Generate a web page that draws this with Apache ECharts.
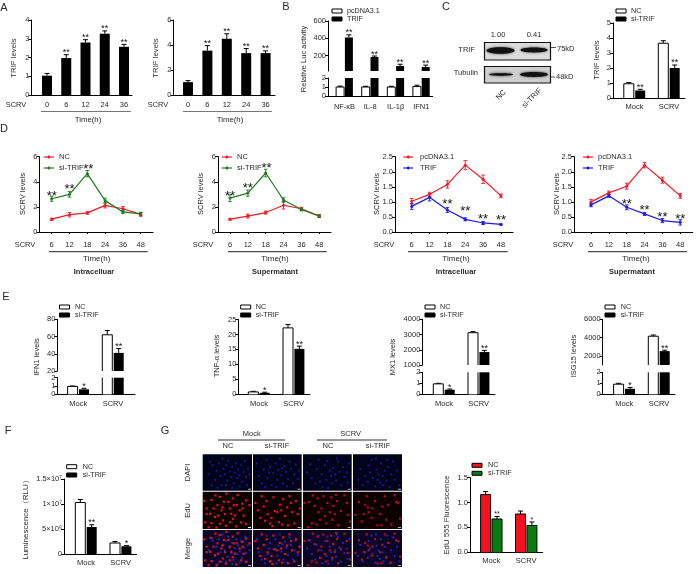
<!DOCTYPE html>
<html><head><meta charset="utf-8">
<style>html,body{margin:0;padding:0;background:#fff}#c{width:696px;height:574px}</style>
<script src="https://cdn.jsdelivr.net/npm/echarts@6/dist/echarts.min.js"></script>
</head><body><div id="c"></div>
<script>
// ---- data ----
const timesA = ['0','6','12','24','36'];
const timesD = ['6','12','18','24','36','48'];
const groupsMS = ['Mock','SCRV'];
const genesB = ['NF-κB','IL-8','IL-1β','IFN1'];

const a1Values = [1.03,1.97,2.8,3.27,2.57];
const a1Tops   = [1.15,2.15,2.95,3.42,2.7];
const a1Stars  = ['','**','**','**','**'];
const a2Values = [1.03,3.55,4.5,3.35,3.35];
const a2Tops   = [1.15,3.95,4.9,3.72,3.53];
const a2Stars  = ['','**','**','**','**'];

const bCtrl = [1,1,1,1.05];
const bCtrlTop = [1.1,1.08,1.08,1.2];
const bTrif = [410,184,80,68];
const bTrifTop = [440,195,100,90];
const bStars = ['**','**','**','**'];

const cNC = [0.95,3.65];
const cNCTop = [1.03,3.82];
const cSi = [0.5,2.0];
const cSiTop = [0.58,2.2];
const cStars = ['**','**'];
const blotRatios = ['1.00','0.41'];

const d1NC = [1.02,1.38,1.52,2.12,1.85,1.4];
const d1NCErr = [0.08,0.18,0.1,0.2,0.18,0.15];
const d1Si = [2.65,3.0,4.65,2.5,1.6,1.45];
const d1SiErr = [0.2,0.22,0.25,0.2,0.12,0.12];
const d1StarPos = [[0,3.0],[1,3.58],[2.05,5.18]];
const d2NC = [1.02,1.27,1.55,2.13,1.85,1.28];
const d2NCErr = [0.07,0.15,0.12,0.3,0.12,0.12];
const d2Si = [2.7,3.1,4.7,2.55,1.8,1.25];
const d2SiErr = [0.28,0.25,0.3,0.18,0.12,0.1];
const d2StarPos = [[0,3.07],[1,3.65],[2.05,5.3]];
const d3Pc = [1.02,1.25,1.58,2.22,1.75,1.2];
const d3PcErr = [0.09,0.07,0.12,0.15,0.14,0.06];
const d3Trif = [0.85,1.15,0.73,0.42,0.3,0.25];
const d3TrifErr = [0.1,0.12,0.08,0.05,0.05,0.02];
const d3StarPos = [[2,1.0],[3,0.77],[4,0.5],[5,0.47]];
const d4Pc = [1.0,1.3,1.52,2.22,1.72,1.2];
const d4PcErr = [0.08,0.06,0.1,0.09,0.1,0.08];
const d4Trif = [0.9,1.2,0.82,0.6,0.38,0.32];
const d4TrifErr = [0.06,0.05,0.08,0.05,0.07,0.09];
const d4StarPos = [[2,1.0],[3,0.8],[4,0.57],[5,0.5]];

const e1NC = [0.95,62];  const e1NCTop = [1.0,67];
const e1Si = [0.6,41];   const e1SiTop = [0.72,46];
const e1Stars = ['*','**'];
const e2NC = [0.8,22.2]; const e2NCTop = [1.0,23.3];
const e2Si = [0.5,15.2]; const e2SiTop = [0.7,16.1];
const e2Stars = ['*','**'];
const e3NC = [0.95,3120]; const e3NCTop = [1.0,3190];
const e3Si = [0.42,1850]; const e3SiTop = [0.48,1960];
const e3Stars = ['*','**'];
const e4NC = [0.92,4150]; const e4NCTop = [1.0,4280];
const e4Si = [0.5,2520];  const e4SiTop = [0.62,2620];
const e4Stars = ['*','**'];

const fNC = [1.03e7,2.2e6]; const fNCTop = [1.09e7,2.5e6];
const fSi = [5.4e6,1.55e6]; const fSiTop = [5.85e6,1.7e6];
const fStars = ['**','*'];
const fTickValues = [0,5e6,1e7,1.5e7];
const fTickLabels = ['0','5×10⁶','1×10⁷','1.5×10⁷'];

const gNC = [1.16,0.77]; const gNCTop = [1.22,0.83];
const gSi = [0.67,0.54]; const gSiTop = [0.72,0.61];
const gStars = ['**','*'];

const dapiMockNC = [[12,55],[20,30],[25,70],[28,45],[33,25],[36,60],[38,85],[42,40],[45,55],[48,30],[50,72],[52,18],[55,47],[58,62],[60,35],[63,80],[65,50],[68,25],[70,65],[72,42],[75,58],[78,30],[80,75],[83,48],[86,18],[88,62],[92,40],[95,55],[18,85],[30,92],[47,85],[60,92],[75,88],[15,20],[40,12],[90,85]];
const dapiMockSi = [[8,25],[12,60],[18,80],[22,42],[28,15],[30,65],[35,35],[38,85],[42,52],[46,25],[50,70],[52,42],[55,12],[58,58],[62,80],[65,32],[68,48],[72,68],[75,20],[78,40],[82,80],[85,55],[88,28],[92,68],[95,45],[25,90],[48,90],[70,88],[33,50],[60,38]];
const dapiScrvNC = [[8,50],[15,28],[18,65],[25,80],[28,40],[32,15],[38,55],[40,90],[45,30],[48,70],[52,92],[55,45],[58,60],[60,80],[62,38],[66,55],[68,72],[72,20],[75,48],[78,85],[82,35],[85,62],[90,50],[95,25],[35,75],[50,18],[70,12],[92,78]];
const dapiScrvSi = [[10,70],[15,40],[20,85],[25,60],[30,75],[32,30],[38,15],[40,65],[45,88],[48,42],[50,70],[52,55],[55,78],[57,25],[60,60],[62,85],[65,45],[68,72],[72,35],[75,90],[78,55],[82,20],[85,70],[90,45],[95,85],[35,50],[47,12],[70,15]];
const eduMockNC = [[3,25],[8,60],[18,22],[22,45],[26,10],[30,36],[35,14],[38,50],[40,42],[45,60],[48,5],[52,27],[55,45],[61,18],[63,36],[65,64],[71,9],[75,50],[80,32],[83,64],[88,23],[95,36],[5,82],[18,84],[25,68],[35,86],[41,77],[47,91],[55,82],[61,73],[68,93],[78,82],[88,86],[8,45],[31,64],[81,45],[15,59],[58,59],[43,27],[69,36],[12,95],[28,96]];
const eduMockSi = [[5,30],[10,50],[15,70],[18,12],[22,40],[28,25],[30,60],[35,85],[38,70],[42,15],[45,52],[50,55],[53,82],[55,35],[58,50],[62,20],[66,65],[70,42],[75,12],[78,30],[80,55],[85,85],[88,25],[92,60],[96,45],[25,78],[40,92],[60,88],[72,90]];
const eduScrvNC = [[3,30],[12,28],[20,10],[24,38],[30,18],[32,55],[35,75],[38,45],[42,12],[45,65],[48,85],[50,30],[55,55],[58,15],[60,75],[62,38],[65,60],[70,25],[72,90],[78,52],[85,10],[92,62],[97,80],[18,85],[28,88],[10,95],[90,30],[68,8]];
const eduScrvSi = [[5,62],[12,28],[18,80],[22,60],[28,12],[30,42],[32,55],[38,70],[45,25],[50,90],[55,60],[60,40],[65,12],[68,75],[72,35],[78,88],[85,10],[88,28],[92,30],[96,72],[40,45],[25,35],[58,90]];

// ---- drawing helpers ----
const FONT = '"Liberation Sans", Arial, sans-serif';
const INK = '#2a2a2a';
const grid = [], xAxis = [], yAxis = [], series = [], graphic = [];

function T(x, y, text, o) {
  o = o || {};
  graphic.push({type:'text', x, y, rotation:o.rot||0, silent:true, z:50,
    style:{text, fill:o.color||INK, fontFamily:FONT, fontSize:o.size||7.5, fontWeight:o.bold?'bold':'normal',
      align:o.align||'center', verticalAlign:'middle'}});
}
function YT(x, y, text, size) { T(x, y, text, {rot:Math.PI/2, size:size||7.5}); }
function R(x, y, w, h, fill, stroke, lw) {
  graphic.push({type:'rect', silent:true, z:50, shape:{x,y,width:w,height:h},
    style:{fill:fill||'transparent', stroke:stroke||null, lineWidth:lw||1}});
}
function L(x1, y1, x2, y2, color, lw) {
  graphic.push({type:'line', silent:true, z:50, shape:{x1,y1,x2,y2}, style:{stroke:color||'#000', lineWidth:lw||1}});
}
function boxLegend(x, y1, y2, t1, t2, c1, c2, tx) {
  R(x, y1-2, 10, 4, c1||'#fff', '#000', 1);
  R(x, y2-2, 10, 4, c2||'#000', '#000', 1);
  T(tx, y1, t1, {align:'left', size:7.2});
  T(tx, y2, t2, {align:'left', size:7.2});
}
function lineLegend(x1, x2, tx, y1, y2, t1, t2, c1, c2) {
  [[y1,t1,c1],[y2,t2,c2]].forEach(([y,t,c]) => {
    L(x1, y, x2, y, c, 1.2);
    graphic.push({type:'circle', silent:true, z:50, shape:{cx:(x1+x2)/2, cy:y, r:1.3}, style:{fill:c}});
    L((x1+x2)/2, y-1.8, (x1+x2)/2, y+1.8, c, 0.8);
    T(tx, y, t, {align:'left', size:7.5});
  });
}

function frame(c) {
  const xMin = (c.left - c.c0) / c.step, xMax = (c.right - c.c0) / c.step;
  const idx = c.labels.map((_, i) => i);
  return c.parts.map((p, i) => {
    const g = grid.length;
    grid.push({left:c.left, width:c.right-c.left, top:p.top, height:p.bot-p.top, containLabel:false});
    xAxis.push({gridIndex:g, type:'value', min:xMin, max:xMax, show:i===0, splitLine:{show:false},
      axisLine:{show:true, onZero:false, lineStyle:{color:'#000', width:1}},
      axisTick:{show:!!c.xTick, length:c.xTick||0, customValues:idx, lineStyle:{color:'#000'}},
      axisLabel:{show:true, customValues:idx, margin:c.margin, fontSize:7.5, color:INK, fontFamily:FONT,
        formatter:v => c.labels[Math.round(v)]}});
    yAxis.push({gridIndex:g, type:'value', min:p.min, max:p.max, splitLine:{show:false},
      axisLine:{show:true, onZero:false, lineStyle:{color:'#000', width:1}},
      axisTick:{show:true, length:3, customValues:p.ticks, lineStyle:{color:'#000'}},
      axisLabel:{show:true, customValues:p.ticks, margin:2, fontSize:7.5, color:INK, fontFamily:FONT,
        formatter:p.fmt || (v => String(v))}});
    return g;
  });
}
function errSeries(g, pts, off, color, cap, lw) {
  series.push({type:'custom', xAxisIndex:g, yAxisIndex:g, silent:true, z:1, data:pts,
    renderItem(params, api) {
      const a = api.coord([api.value(0), api.value(1)]), b = api.coord([api.value(0), api.value(2)]);
      const x = a[0] + off, st = {stroke:color, lineWidth:lw||1};
      return {type:'group', children:[
        {type:'line', shape:{x1:x, y1:a[1], x2:x, y2:b[1]}, style:st},
        {type:'line', shape:{x1:x-cap, y1:b[1], x2:x+cap, y2:b[1]}, style:st}
      ].concat(api.value(3) ? [{type:'line', shape:{x1:x-cap, y1:a[1], x2:x+cap, y2:a[1]}, style:st}] : [])};
    }});
}
// black outline of a bar: sides plus a top edge only where the bar really ends inside this axis part
function outlineSeries(g, pts, off, w, color) {
  series.push({type:'custom', xAxisIndex:g, yAxisIndex:g, silent:true, z:3, data:pts,
    renderItem(params, api) {
      const a = api.coord([api.value(0), api.value(1)]), b = api.coord([api.value(0), api.value(2)]);
      const x = a[0] + off, h = w/2;
      const path = api.value(3)
        ? [[x-h,a[1]],[x-h,b[1]],[x+h,b[1]],[x+h,a[1]]]
        : null;
      return path
        ? {type:'polyline', shape:{points:path}, style:{stroke:color, fill:null, lineWidth:1}}
        : {type:'group', children:[
            {type:'line', shape:{x1:x-h, y1:a[1], x2:x-h, y2:b[1]}, style:{stroke:color, lineWidth:1}},
            {type:'line', shape:{x1:x+h, y1:a[1], x2:x+h, y2:b[1]}, style:{stroke:color, lineWidth:1}}]};
    }});
}
function starSeries(g, pts, texts, off, size, dy) {
  series.push({type:'custom', xAxisIndex:g, yAxisIndex:g, silent:true, z:3, data:pts,
    renderItem(params, api) {
      const a = api.coord([api.value(0), api.value(1)]);
      return {type:'text', x:a[0]+off, y:a[1]+dy,
        style:{text:texts[params.dataIndex], fill:'#111', fontFamily:FONT, fontSize:size, align:'center', verticalAlign:'middle'}};
    }});
}
function barChart(c) {
  const gs = frame(c);
  const barW = c.barW || 10, gap = c.gap === undefined ? 0.14 : c.gap;
  const n = c.groups.length;
  c.parts.forEach((p, pi) => {
    const g = gs[pi];
    c.groups.forEach((s, si) => {
      const off = n === 1 ? 0 : (si - (n-1)/2) * barW * (1 + gap);
      series.push({type:'bar', xAxisIndex:g, yAxisIndex:g, barWidth:barW, barGap:(gap*100)+'%', clip:true, z:2,
        itemStyle:{color:s.fill, borderWidth:0},
        data:s.values.map((v, i) => [i, v])});
      if (s.stroke) {
        outlineSeries(g, s.values.map((v, i) => [i, v, p]).filter(d => d[1] > p.min)
          .map(d => [d[0], p.min, Math.min(d[1], p.max), d[1] <= p.max ? 1 : 0]), off, barW, s.stroke);
      }
      const inPart = s.values.map((v, i) => [i, v, s.tops[i], 0]).filter(d => d[1] > p.min && d[1] <= p.max);
      errSeries(g, inPart, off, '#000', 2.5);
      if (s.stars) {
        const sel = s.values.map((v, i) => [i, s.tops[i], v]).filter(d => s.stars[d[0]] && d[2] > p.min && d[2] <= p.max);
        starSeries(g, sel.map(d => [d[0], d[1]]), sel.map(d => s.stars[d[0]]), off, c.starSize || 9, c.starDy === undefined ? -2 : c.starDy);
      }
    });
  });
}
function lineChart(c) {
  const g = frame(c)[0];
  c.lines.forEach(s => {
    series.push({type:'line', xAxisIndex:g, yAxisIndex:g, symbol:'circle', symbolSize:3, z:2, clip:false,
      lineStyle:{color:s.color, width:1.2}, itemStyle:{color:s.color},
      data:s.values.map((v, i) => [i, v])});
    errSeries(g, s.values.map((v, i) => [i, v - s.errs[i], v + s.errs[i], 1]), 0, s.color, 1.8, 0.9);
  });
  starSeries(g, c.starPos, c.starPos.map(() => '**'), 0, 13, 2.5);
}

// ---- A ----
T(4, 8, 'A', {size:11});
barChart({left:31.3, right:132, c0:47, step:19.25, margin:6, labels:timesA,
  parts:[{top:20, bot:95, min:0, max:4, ticks:[0,1,2,3,4]}],
  groups:[{values:a1Values, tops:a1Tops, fill:'#000', stars:a1Stars}]});
YT(14, 58, 'TRIF levels', 7.8);
T(16, 105, 'SCRV'); L(41, 111.5, 131, 111.5, '#777'); T(88, 119.5, 'Time(h)', {size:7.8});
barChart({left:173.5, right:275, c0:188, step:19.4, margin:6, labels:timesA,
  parts:[{top:20, bot:95, min:0, max:6, ticks:[0,2,4,6]}],
  groups:[{values:a2Values, tops:a2Tops, fill:'#000', stars:a2Stars}]});
YT(156, 58, 'TRIF levels', 7.8);
T(158, 105, 'SCRV'); L(183, 111.5, 272, 111.5, '#777'); T(230, 119.5, 'Time(h)', {size:7.8});

// ---- B ----
T(286, 7, 'B', {size:11});
barChart({left:328, right:432.7, c0:344.5, step:25.6, margin:7, labels:genesB, barW:8, gap:0.1,
  parts:[{top:78, bot:96, min:0, max:2, ticks:[0,1,2]}, {top:21, bot:71, min:22, max:600, ticks:[200,400,600]}],
  groups:[{values:bCtrl, tops:bCtrlTop, fill:'#fff', stroke:'#000'}, {values:bTrif, tops:bTrifTop, fill:'#000', stars:bStars}]});
YT(304, 59, 'Relative Luc activity');
boxLegend(332, 11, 19, 'pcDNA3.1', 'TRIF', '#fff', '#000', 347);

// ---- C blot ----
T(446, 7, 'C', {size:11});
T(498, 35, blotRatios[0]); T(534, 35, blotRatios[1]);
R(484.5, 42.5, 66, 17.5, '#dcdcdc', '#111', 1.2);
R(484.5, 66.5, 66, 16.5, '#cfcfcf', '#111', 1.2);
function band(cx, cy, rx, ry) {
  graphic.push({type:'ellipse', silent:true, z:51, shape:{cx, cy, rx, ry},
    style:{fill:'#111', shadowBlur:2.5, shadowColor:'#222'}});
}
band(500.5, 50.5, 14, 3.2); band(534, 50, 13.5, 2.4);
band(501, 74.5, 12, 1.2); band(534, 74.5, 14, 2.4);
T(475, 50, 'TRIF', {align:'right'}); T(478, 73, 'Tubulin', {align:'right'});
L(551, 47.5, 556, 47.5, '#555'); L(551, 77, 555, 77, '#555');
T(557, 49, '75kD', {align:'left'}); T(556, 77, '48kD', {align:'left'});
T(501, 95, 'NC', {rot:Math.PI/4}); T(532, 98, 'si-TRIF', {rot:Math.PI/4});

// ---- C chart ----
barChart({left:613, right:685, c0:634.5, step:34.5, margin:5, labels:groupsMS,
  parts:[{top:23, bot:98, min:0, max:5, ticks:[0,1,2,3,4,5]}],
  groups:[{values:cNC, tops:cNCTop, fill:'#fff', stroke:'#000'}, {values:cSi, tops:cSiTop, fill:'#000', stars:cStars}]});
YT(597, 60, 'TRIF levels', 7.8);
boxLegend(616, 11, 19, 'NC', 'si-TRIF', '#fff', '#000', 631);

// ---- D ----
T(4, 129, 'D', {size:11});
const RED = '#ee1c25', GREEN = '#1e7b1e', BLUE = '#1c1ce8';
const pD = {top:156.7, bot:232, min:0, max:6, ticks:[0,2,4,6]};
const pD2 = {top:156.7, bot:232, min:0, max:2.5, ticks:[0,0.5,1,1.5,2,2.5], fmt:v => v.toFixed(1)};
function dDecor(yt, sc, l1, l2, tc, name, nc) {
  YT(yt, 194, 'SCRV levels', 7.5);
  T(sc, 245, 'SCRV'); L(l1, 251.7, l2, 251.7, '#222');
  T(tc, 259, 'Time(h)', {size:8}); T(nc, 272, name, {bold:true, size:7.5});
}
lineChart({left:39.5, right:153, c0:51.7, step:17.8, margin:9, labels:timesD, xTick:2, parts:[pD], starPos:d1StarPos,
  lines:[{values:d1NC, errs:d1NCErr, color:RED}, {values:d1Si, errs:d1SiErr, color:GREEN}]});
dDecor(23, 25, 49, 147.7, 96.7, 'Intracelluar', 94);
lineLegend(43.7, 54, 59, 157, 168, 'NC', 'si-TRIF', RED, GREEN);

lineChart({left:218, right:331, c0:230, step:17.85, margin:9, labels:timesD, xTick:2, parts:[pD], starPos:d2StarPos,
  lines:[{values:d2NC, errs:d2NCErr, color:RED}, {values:d2Si, errs:d2SiErr, color:GREEN}]});
dDecor(201, 203, 228, 326.7, 275, 'Supermatant', 275);
lineLegend(221.7, 232, 237, 157, 168, 'NC', 'si-TRIF', RED, GREEN);

lineChart({left:395, right:513, c0:411.7, step:17.85, margin:9, labels:timesD, xTick:2, parts:[pD2], starPos:d3StarPos,
  lines:[{values:d3Pc, errs:d3PcErr, color:RED}, {values:d3Trif, errs:d3TrifErr, color:BLUE}]});
dDecor(377, 384, 408, 507.7, 456, 'Intracelluar', 456);
lineLegend(403.3, 413, 420, 157, 168, 'pcDNA3.1', 'TRIF', RED, BLUE);

lineChart({left:574, right:692.7, c0:591, step:17.85, margin:9, labels:timesD, xTick:2, parts:[pD2], starPos:d4StarPos,
  lines:[{values:d4Pc, errs:d4PcErr, color:RED}, {values:d4Trif, errs:d4TrifErr, color:BLUE}]});
dDecor(557, 563, 588, 687, 636, 'Supermatant', 632);
lineLegend(583, 593, 598, 157, 168, 'pcDNA3.1', 'TRIF', RED, BLUE);

// ---- E ----
T(6, 297, 'E', {size:11});
function eChart(left, c0, parts, nc, ncTop, si, siTop, stars, right) {
  barChart({left, right, c0, step:34.7, margin:6, labels:groupsMS, parts,
    groups:[{values:nc, tops:ncTop, fill:'#fff', stroke:'#000'}, {values:si, tops:siTop, fill:'#000', stars}]});
}
eChart(57.3, 78.3, [{top:377.7, bot:394.3, min:0, max:2, ticks:[0,1,2]}, {top:319.3, bot:371, min:20, max:80, ticks:[20,40,60,80]}], e1NC, e1NCTop, e1Si, e1SiTop, e1Stars, 135);
YT(37, 357, 'IFN1 levels'); boxLegend(59.5, 307, 315, 'NC', 'si-TRIF', '#fff', '#000', 75);
eChart(238.3, 259, [{top:319.5, bot:394.3, min:0, max:25, ticks:[0,5,10,15,20,25]}], e2NC, e2NCTop, e2Si, e2SiTop, e2Stars, 310);
YT(217.3, 356, 'TNF-α levels'); boxLegend(240.7, 307, 315, 'NC', 'si-TRIF', '#fff', '#000', 255.7);
eChart(422.3, 444, [{top:372.3, bot:394.3, min:0, max:2, ticks:[0,1,2]}, {top:319.3, bot:365, min:1000, max:4000, ticks:[1000,2000,3000,4000]}], e3NC, e3NCTop, e3Si, e3SiTop, e3Stars, 495);
YT(393.3, 357, 'MX1 levels'); boxLegend(425, 307, 315, 'NC', 'si-TRIF', '#fff', '#000', 440);
eChart(602.7, 624.3, [{top:372.3, bot:394.3, min:0, max:2, ticks:[0,1,2]}, {top:319.3, bot:365, min:1000, max:6000, ticks:[2000,4000,6000]}], e4NC, e4NCTop, e4Si, e4SiTop, e4Stars, 675);
YT(574.3, 356, 'ISG15 levels'); boxLegend(605, 307, 315, 'NC', 'si-TRIF', '#fff', '#000', 620.7);

// ---- F ----
T(8, 431, 'F', {size:11});
barChart({left:64, right:136.7, c0:86, step:34.7, margin:5, labels:groupsMS,
  parts:[{top:479, bot:554, min:0, max:1.5e7, ticks:fTickValues, fmt:v => fTickLabels[fTickValues.indexOf(v)]}],
  groups:[{values:fNC, tops:fNCTop, fill:'#fff', stroke:'#000'}, {values:fSi, tops:fSiTop, fill:'#000', stars:fStars}]});
YT(26, 518, 'Luminescence（RLU）', 8);
boxLegend(66.7, 466.7, 475, 'NC', 'si-TRIF', '#fff', '#000', 82.7);

// ---- G images ----
T(165, 431, 'G', {size:11});
T(251.7, 433.7, 'Mock'); L(218, 440, 285, 440, '#333'); T(228, 445.5, 'NC'); T(277, 445.5, 'si-TRIF');
T(350.7, 433.7, 'SCRV'); L(317, 440, 387, 440, '#333'); T(328, 445.5, 'NC'); T(378, 445.5, 'si-TRIF');
const colX = [[202.7,252],[253,301.7],[303,351.7],[353,402]];
const rowY = [[454.3,490.7],[491.7,529],[530,567]];
const rowNames = ['DAPI','EdU','Merge'];
const dapiFields = [dapiMockNC, dapiMockSi, dapiScrvNC, dapiScrvSi];
const eduFields = [eduMockNC, eduMockSi, eduScrvNC, eduScrvSi];
const rowBg = ['#03031c', '#0c0000', '#0c0526'];
function dots(g, pts, color, size, opacity) {
  series.push({type:'scatter', xAxisIndex:g, yAxisIndex:g, silent:true, symbol:'rect', symbolSize:size, z:2,
    itemStyle:{color, opacity}, data:pts});
}
rowY.forEach((ry, r) => {
  YT(188, (ry[0]+ry[1])/2, rowNames[r]);
  colX.forEach((cx, c) => {
    const g = grid.length;
    grid.push({left:cx[0], width:cx[1]-cx[0], top:ry[0], height:ry[1]-ry[0], show:true, backgroundColor:rowBg[r], borderWidth:0});
    xAxis.push({gridIndex:g, type:'value', min:0, max:100, show:false});
    yAxis.push({gridIndex:g, type:'value', min:0, max:100, inverse:true, show:false});
    if (r !== 1) dots(g, dapiFields[c], r === 0 ? '#1a22c8' : '#2230e0', 2, r === 0 ? 0.65 : 0.8);
    if (r !== 0) dots(g, eduFields[c], '#e8141c', 2.2, c < 2 ? 0.95 : 0.75);
    R(cx[1]-4, ry[1]-2, 3, 1, r === 1 && c === 0 ? '#fff' : '#aaa');
  });
});

// ---- G chart ----
barChart({left:470, right:542.7, c0:491.3, step:34.9, margin:5, labels:groupsMS,
  parts:[{top:477.7, bot:552.3, min:0, max:1.5, ticks:[0,0.5,1,1.5], fmt:v => v.toFixed(1)}],
  groups:[{values:gNC, tops:gNCTop, fill:'#f5101e', stroke:'#000', stars:null},
          {values:gSi, tops:gSiTop, fill:'#0b7a10', stroke:'#000', stars:gStars}],
  starSize:7});
YT(447, 515, 'EdU 555 Fluorescence', 7.8);
boxLegend(472, 465.3, 473.3, 'NC', 'si-TRIF', '#f5101e', '#0b7a10', 488);

const chart = echarts.init(document.getElementById('c'), null, {renderer:'canvas'});
chart.setOption({animation:false, backgroundColor:'#fff', tooltip:{show:false}, grid, xAxis, yAxis, series, graphic:{elements:graphic}});
</script></body></html>
